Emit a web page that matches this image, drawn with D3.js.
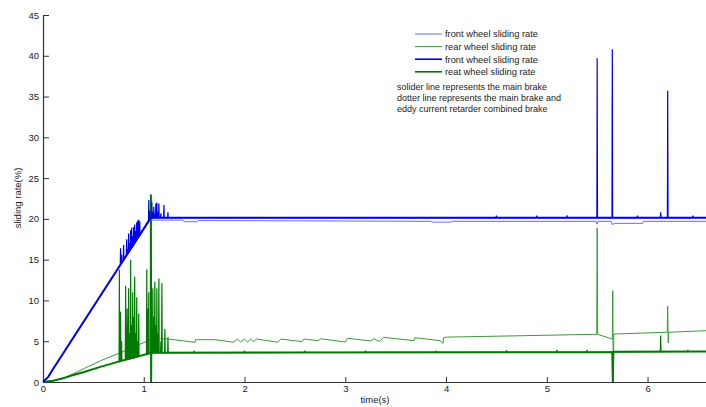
<!DOCTYPE html>
<html>
<head>
<meta charset="utf-8">
<script src="https://cdn.jsdelivr.net/npm/d3@7"></script>
<style>
  body { margin: 0; background: #fff; }
  text { font-family: "Liberation Sans", Arial, sans-serif; fill: #222; }
</style>
</head>
<body>
<script>
// ticks
var xTicks = [0, 1, 2, 3, 4, 5, 6];
var yTicks = [0, 5, 10, 15, 20, 25, 30, 35, 40, 45];

// light blue, thin
var frontThin = [[0,0],[0.05,0.6],[0.1,1.6],[1.07,20.0],[1.08,19.85],[1.39,19.85],[1.4,19.65],[1.53,19.65],
  [1.54,19.8],[3.85,19.7],[3.86,19.6],[4.05,19.6],[4.06,19.7],[5.49,19.7],[5.5,19.35],[5.51,19.7],
  [5.64,19.7],[5.65,19.3],[5.67,19.45],[5.95,19.45],[5.96,19.7],[6.58,19.7]];
// dark blue, thick
var frontThick = [[0,0],[0.05,0.6],[0.1,1.6],[1.07,20.15],[6.58,20.15]];
var frontSpikes = [[0.77,16.4],[0.78,15.6],[0.8,16.8],[0.83,17.5],[0.84,16.3],[0.85,18.2],[0.86,17.0],
  [0.87,18.6],[0.875,17.4],[0.88,18.9],[0.89,17.9],[0.9,19.0],[0.905,18.2],[0.91,19.3],[0.92,18.5],
  [0.93,19.6],[0.935,18.9],[0.94,19.8],[0.95,19.9],[0.96,19.7],[1.05,22.3],[1.06,21.0],[1.08,22.1],
  [1.09,20.9],[1.1,21.5],[1.11,20.6],[1.12,21.9],[1.13,22.0],[1.14,20.8],[1.15,21.9],[1.17,20.7],
  [1.2,21.7],[1.24,20.8],
  [4.5,20.4],[4.9,20.4],[5.2,20.45],[5.5,39.7],[5.65,40.8],[5.9,20.4],[6.13,20.8],[6.2,35.7],[6.45,20.4]];

// light green, thin
var rearThin = [[0,0],[0.1,0.15],[0.2,0.5],[0.3,1.0],[0.4,1.6],[0.57,2.6],[0.75,3.5],[0.9,4.3],[1.07,5.2],[1.17,5.3],
  [1.24,5.27],[1.51,4.87],[1.515,5.19],[1.71,5.19],[1.89,4.87],[1.93,5.27],[1.96,4.9],[2.0,5.27],
  [2.03,4.9],[2.06,5.27],[2.09,4.95],[2.12,5.27],[2.33,4.87],[2.36,5.27],[2.57,4.95],[2.59,5.27],
  [2.73,5.07],[2.76,5.3],[3.0,4.9],[3.02,5.35],[3.26,5.03],[3.28,5.35],[3.34,4.94],[3.38,5.48],
  [3.68,5.07],[3.69,5.43],[3.94,5.07],[3.97,4.74],[3.975,5.43],[4.0,5.5],[5.495,5.85],[5.5,18.9],
  [5.505,5.85],[5.65,5.27],[5.655,11.2],[5.66,0],[5.665,5.88],[6.195,6.1],[6.2,9.3],[6.205,4.8],
  [6.21,6.1],[6.58,6.29]];
// dark green, thick
var rearThick = [[0,0],[0.1,0.15],[0.2,0.45],[0.3,0.85],[0.4,1.2],[0.57,1.85],[0.75,2.5],[1.07,3.55],[1.071,23.0],
  [1.073,0],[1.075,3.6],[5.65,3.65],[5.655,0],[5.66,3.7],[6.58,3.75]];
var rearSpikes = [[0.758,13.8],[0.77,8.6],[0.78,5.0],[0.82,11.8],[0.835,9.0],[0.85,11.5],[0.86,6.0],
  [0.87,15.0],[0.88,7.0],[0.89,11.0],[0.9,8.0],[0.91,12.9],[0.92,6.0],[0.93,10.4],[0.94,5.0],
  [0.95,8.4],[1.03,13.8],[1.04,9.0],[1.05,11.0],[1.08,6.0],[1.09,11.5],[1.1,8.0],[1.11,12.3],
  [1.12,7.0],[1.13,11.5],[1.14,6.0],[1.15,12.7],[1.17,5.0],[1.18,12.1],[1.21,6.5],[1.24,5.5],
  [1.5,3.85],[2.0,3.85],[2.6,3.85],[3.2,3.85],[3.9,3.85],[4.6,3.9],[5.1,3.95],[5.4,3.95],[6.13,5.7],[6.4,3.95]];

var legendLabels = ["front wheel sliding rate", "rear wheel sliding rate",
  "front wheel sliding rate", "reat wheel sliding rate"];
var legendColors = ["#6a6aff", "#3d9a3d", "#0000ee", "#007a00"];
var legendWidths = [1, 1, 1.6, 1.6];
var noteLines = ["solider line represents the main brake",
  "dotter line represents the main brake and",
  "eddy current retarder combined brake"];

var W = 706, H = 407;
var svg = d3.select("body").append("svg").attr("width", W).attr("height", H);

var x = d3.scaleLinear().domain([0, 6.58]).range([43, 706]);
var y = d3.scaleLinear().domain([0, 45]).range([382, 15]);

var line = d3.line().x(function(d) { return x(d[0]); }).y(function(d) { return y(d[1]); });

// value of a series at time t, used as the foot of a spike
function valueAt(series, t) {
  var i = d3.bisector(function(d) { return d[0]; }).left(series, t);
  if (i <= 0) return series[0][1];
  if (i >= series.length) return series[series.length - 1][1];
  var a = series[i - 1], b = series[i];
  return a[1] + (b[1] - a[1]) * (t - a[0]) / (b[0] - a[0]);
}
function spikePoints(series, spikes) {
  var pts = [];
  spikes.forEach(function(s) {
    var base = valueAt(series, s[0]);
    pts.push([s[0] - 0.003, base], [s[0], s[1]], [s[0] + 0.003, base]);
  });
  return pts;
}

// axes
var xAxis = d3.axisBottom(x).tickValues(xTicks).tickFormat(d3.format("d"))
  .tickSizeInner(-5).tickSizeOuter(0).tickPadding(3);
var yAxis = d3.axisLeft(y).tickValues(yTicks).tickFormat(d3.format("d"))
  .tickSizeInner(-6).tickSizeOuter(0).tickPadding(4);

var gx = svg.append("g").attr("transform", "translate(0,382)").call(xAxis);
var gy = svg.append("g").attr("transform", "translate(43,0)").call(yAxis);
[gx, gy].forEach(function(g) {
  g.select(".domain").attr("stroke", "#333").attr("stroke-width", 1.2);
  g.selectAll(".tick line").attr("stroke", "#333");
  g.selectAll(".tick text").attr("font-size", 9.5).attr("fill", "#222")
    .attr("font-family", "Liberation Sans, Arial, sans-serif");
});

// series
svg.append("path").datum(rearThin).attr("d", line)
  .attr("fill", "none").attr("stroke", legendColors[1]).attr("stroke-width", 1);
svg.append("path").datum(spikePoints(rearThick, rearSpikes)).attr("d", line)
  .attr("fill", "none").attr("stroke", legendColors[3]).attr("stroke-width", 1.2);
svg.append("path").datum(rearThick).attr("d", line)
  .attr("fill", "none").attr("stroke", legendColors[3]).attr("stroke-width", 2);
svg.append("path").datum(frontThin).attr("d", line)
  .attr("fill", "none").attr("stroke", legendColors[0]).attr("stroke-width", 1);
svg.append("path").datum(spikePoints(frontThick, frontSpikes)).attr("d", line)
  .attr("fill", "none").attr("stroke", legendColors[2]).attr("stroke-width", 1.2);
svg.append("path").datum(frontThick).attr("d", line)
  .attr("fill", "none").attr("stroke", legendColors[2]).attr("stroke-width", 2);

// legend
var lg = svg.append("g").attr("transform", "translate(415,34)");
legendLabels.forEach(function(lab, i) {
  lg.append("line").attr("x1", 0).attr("x2", 27).attr("y1", i * 12.6).attr("y2", i * 12.6)
    .attr("stroke", legendColors[i]).attr("stroke-width", legendWidths[i]);
  lg.append("text").attr("x", 30).attr("y", i * 12.6 + 3.3).attr("font-size", 9.3).text(lab);
});
noteLines.forEach(function(t, i) {
  svg.append("text").attr("x", 397).attr("y", 90 + i * 11).attr("font-size", 9).text(t);
});

// axis titles
svg.append("text").attr("x", 375).attr("y", 403).attr("text-anchor", "middle")
  .attr("font-size", 9.5).text("time(s)");
svg.append("text").attr("transform", "translate(21,198) rotate(-90)").attr("text-anchor", "middle")
  .attr("font-size", 9.5).text("sliding rate(%)");
</script>
</body>
</html>
